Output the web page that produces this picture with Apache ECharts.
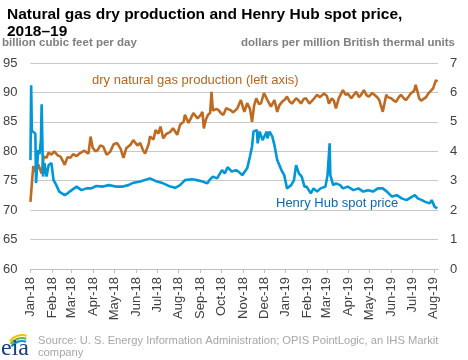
<!DOCTYPE html>
<html>
<head>
<meta charset="utf-8">
<script src="https://cdn.jsdelivr.net/npm/echarts@6/dist/echarts.min.js"></script>
<style>
html,body{margin:0;padding:0;background:#fff;}
#chart{width:468px;height:360px;}
</style>
</head>
<body>
<div id="chart"></div>
<script>
// ---- Data ----
var tickLabels = ['Jan-18','Feb-18','Mar-18','Apr-18','May-18','Jun-18','Jul-18','Aug-18','Sep-18','Oct-18','Nov-18','Dec-18',
  'Jan-19','Feb-19','Mar-19','Apr-19','May-19','Jun-19','Jul-19','Aug-19'];

var prodDates = ['2018-01-01','2018-01-03','2018-01-05','2018-01-08','2018-01-12','2018-01-17','2018-01-20','2018-01-24','2018-01-27','2018-01-31',
  '2018-02-04','2018-02-09','2018-02-13','2018-02-16','2018-02-19','2018-02-23','2018-02-27','2018-03-03','2018-03-08','2018-03-13',
  '2018-03-19','2018-03-25','2018-03-28','2018-03-31','2018-04-04','2018-04-07','2018-04-11','2018-04-15','2018-04-20','2018-04-25',
  '2018-04-30','2018-05-05','2018-05-10','2018-05-14','2018-05-18','2018-05-24','2018-05-28','2018-06-03','2018-06-07','2018-06-11',
  '2018-06-14','2018-06-19','2018-06-21','2018-06-26','2018-06-29','2018-07-03','2018-07-06','2018-07-10','2018-07-14','2018-07-20',
  '2018-07-24','2018-07-30','2018-08-03','2018-08-08','2018-08-10','2018-08-15','2018-08-18','2018-08-22','2018-08-28','2018-09-01',
  '2018-09-04','2018-09-06','2018-09-09','2018-09-12','2018-09-15','2018-09-17','2018-09-19','2018-09-24','2018-09-27','2018-10-01',
  '2018-10-04','2018-10-08','2018-10-14','2018-10-18','2018-10-24','2018-10-29','2018-11-03','2018-11-07','2018-11-11','2018-11-14',
  '2018-11-17','2018-11-20','2018-11-24','2018-11-27','2018-12-01','2018-12-06','2018-12-11','2018-12-16','2018-12-20','2018-12-23',
  '2018-12-27','2018-12-31','2019-01-03','2019-01-07','2019-01-10','2019-01-16','2019-01-20','2019-01-23','2019-01-27','2019-01-30',
  '2019-02-04','2019-02-06','2019-02-11','2019-02-15','2019-02-19','2019-02-25','2019-03-01','2019-03-04','2019-03-08','2019-03-11',
  '2019-03-14','2019-03-18','2019-03-24','2019-03-28','2019-03-31','2019-04-05','2019-04-07','2019-04-12','2019-04-16','2019-04-19',
  '2019-04-23','2019-04-27','2019-04-30','2019-05-05','2019-05-07','2019-05-12','2019-05-15','2019-05-17','2019-05-20','2019-05-25',
  '2019-05-27','2019-06-01','2019-06-05','2019-06-08','2019-06-12','2019-06-15','2019-06-19','2019-06-22','2019-06-26','2019-06-29',
  '2019-07-04','2019-07-06','2019-07-09','2019-07-11','2019-07-14','2019-07-16','2019-07-21','2019-07-24','2019-07-28','2019-07-31',
  '2019-08-04','2019-08-06'];
var prodValues = [71.4,74.5,77.5,76.5,77.8,76.2,79.1,78.9,79.8,79.4,
  80.0,79.3,79.1,78.4,77.7,79.0,78.9,79.5,79.2,79.7,
  80.1,79.6,82.5,80.6,80.0,80.2,81.0,80.8,79.4,79.9,
  81.2,81.4,80.4,78.9,80.5,81.1,81.9,81.0,81.4,80.2,
  79.6,81.2,82.5,82.0,83.6,83.0,84.2,82.2,82.9,83.3,
  83.9,82.8,84.5,85.0,86.2,84.8,85.5,86.5,85.6,86.1,
  86.7,83.9,85.4,86.2,86.5,90.1,86.9,87.2,87.0,86.4,
  86.2,87.3,87.0,86.6,87.3,88.7,86.7,88.2,87.2,85.0,
  87.8,89.0,88.0,88.2,89.9,88.7,87.6,88.7,86.7,87.8,
  88.4,88.8,89.3,88.4,88.1,89.0,88.6,88.1,88.9,89.0,
  88.1,88.4,89.0,89.6,89.2,89.8,89.4,88.1,89.0,88.6,
  87.3,89.0,90.4,89.6,89.8,89.0,89.3,90.1,89.2,89.6,
  90.4,89.5,89.3,89.9,89.8,89.2,88.7,89.0,86.7,89.6,
  89.2,89.0,88.6,88.4,89.2,89.6,89.0,88.7,89.3,89.8,
  90.3,91.3,90.0,89.0,88.6,88.4,89.2,89.8,90.3,90.7,
  92.1,91.8];

var priceDates = ['2018-01-01','2018-01-02','2018-01-03','2018-01-05','2018-01-08','2018-01-09','2018-01-12','2018-01-14','2018-01-16','2018-01-17',
  '2018-01-19','2018-01-21','2018-01-24','2018-01-27','2018-01-31','2018-02-01','2018-02-03','2018-02-07','2018-02-11','2018-02-19',
  '2018-02-22','2018-02-26','2018-03-08','2018-03-15','2018-03-22','2018-03-29','2018-04-05','2018-04-15','2018-04-23','2018-05-03',
  '2018-05-13','2018-05-21','2018-05-27','2018-06-07','2018-06-21','2018-07-01','2018-07-10','2018-07-20','2018-07-27','2018-08-03',
  '2018-08-10','2018-08-20','2018-08-27','2018-09-04','2018-09-11','2018-09-15','2018-09-19','2018-09-25','2018-10-02','2018-10-06',
  '2018-10-10','2018-10-16','2018-10-22','2018-10-26','2018-10-31','2018-11-07','2018-11-11','2018-11-14','2018-11-16','2018-11-21',
  '2018-11-22','2018-11-25','2018-11-29','2018-12-05','2018-12-06','2018-12-09','2018-12-13','2018-12-16','2018-12-20','2018-12-26',
  '2018-12-30','2019-01-03','2019-01-09','2019-01-13','2019-01-16','2019-01-20','2019-01-24','2019-01-28','2019-01-31','2019-02-06',
  '2019-02-10','2019-02-15','2019-02-20','2019-02-27','2019-03-02','2019-03-05','2019-03-06','2019-03-10','2019-03-14','2019-03-20',
  '2019-03-24','2019-03-31','2019-04-08','2019-04-15','2019-04-22','2019-04-29','2019-05-06','2019-05-13','2019-05-20','2019-05-26',
  '2019-06-02','2019-06-09','2019-06-16','2019-06-23','2019-07-01','2019-07-05','2019-07-09','2019-07-15','2019-07-19','2019-07-26',
  '2019-07-29','2019-08-02','2019-08-06'];
var priceValues = [3.70,6.24,4.70,4.67,4.60,2.92,4.04,3.90,4.40,5.60,
  3.14,3.60,3.14,3.53,3.60,3.60,3.02,2.85,2.63,2.51,
  2.55,2.63,2.80,2.68,2.74,2.74,2.82,2.80,2.85,2.80,
  2.80,2.85,2.92,2.97,3.08,2.97,2.91,2.80,2.76,2.85,
  3.02,3.05,3.02,2.97,2.91,3.05,3.14,3.08,3.36,3.25,
  3.46,3.31,3.36,3.30,3.19,3.42,3.82,4.16,4.67,4.72,
  4.27,4.67,4.38,4.67,4.44,4.67,4.50,4.21,3.70,3.36,
  3.19,2.74,2.85,3.02,3.53,3.25,3.14,2.80,2.80,2.57,
  2.74,2.63,2.74,2.80,3.19,4.27,3.19,2.85,2.91,2.85,
  2.74,2.80,2.68,2.74,2.63,2.68,2.63,2.74,2.74,2.63,
  2.46,2.51,2.40,2.34,2.46,2.51,2.40,2.34,2.29,2.23,
  2.34,2.12,2.06];

var prodLabel = 'dry natural gas production (left axis)';
var priceLabel = 'Henry Hub spot price';

// ---- Build ----
var monNames = ['Jan','Feb','Mar','Apr','May','Jun','Jul','Aug','Sep','Oct','Nov','Dec'];
var DAY = 86400000;
function tickToTime(lbl) {
  var m = monNames.indexOf(lbl.slice(0, 3));
  var y = 2000 + parseInt(lbl.slice(4), 10);
  return Date.UTC(y, m, 1);
}
function parseDay(s) {
  var p = s.split('-');
  return Date.UTC(+p[0], +p[1] - 1, +p[2]);
}
var tickTimes = tickLabels.map(tickToTime);
var prodData = prodDates.map(function (d, i) { return [parseDay(d), prodValues[i]]; });
var priceData = priceDates.map(function (d, i) { return [parseDay(d), priceValues[i]]; });

var FONT = '"Liberation Sans", Arial, sans-serif';
var chart = echarts.init(document.getElementById('chart'), null, {renderer: 'canvas'});
var orange = '#BD6B22';
var blue = '#0096D7';

chart.setOption({
  animation: false,
  backgroundColor: '#fff',
  textStyle: {fontFamily: FONT},
  title: {
    text: 'Natural gas dry production and Henry Hub spot price,\n2018\u201319',
    left: 2, top: 1,
    textStyle: {fontSize: 15.5, fontWeight: 'bold', color: '#000', lineHeight: 17, fontFamily: FONT}
  },
  grid: {left: 30, right: 30, top: 63, bottom: 91, containLabel: false},
  xAxis: {
    type: 'value',
    min: tickTimes[0],
    max: parseDay('2019-08-07'),
    axisLine: {show: true, onZero: false, lineStyle: {color: '#bfbfbf', width: 1}},
    axisTick: {show: true, customValues: tickTimes, length: 4, lineStyle: {color: '#bfbfbf'}},
    splitLine: {show: false},
    axisLabel: {
      customValues: tickTimes,
      rotate: 90,
      margin: 8,
      fontSize: 13,
      color: '#404040',
      fontFamily: FONT,
      formatter: function (v) {
        for (var i = 0; i < tickTimes.length; i++) {
          if (Math.abs(tickTimes[i] - v) < DAY / 2) return tickLabels[i];
        }
        return '';
      }
    }
  },
  yAxis: [
    {
      type: 'value', min: 60, max: 95, interval: 5, position: 'left',
      axisLine: {show: false}, axisTick: {show: false},
      axisLabel: {fontSize: 13, color: '#404040', margin: 13, fontFamily: FONT},
      splitLine: {show: true, lineStyle: {color: '#c8c8c8', width: 1}}
    },
    {
      type: 'value', min: 0, max: 7, interval: 1, position: 'right',
      axisLine: {show: false}, axisTick: {show: false},
      axisLabel: {fontSize: 13, color: '#404040', margin: 12, fontFamily: FONT},
      splitLine: {show: false}
    }
  ],
  series: [
    {
      type: 'line', name: prodLabel, yAxisIndex: 0, data: prodData,
      showSymbol: false, symbol: 'none',
      lineStyle: {color: orange, width: 2.6}, z: 2
    },
    {
      type: 'line', name: priceLabel, yAxisIndex: 1, data: priceData,
      showSymbol: false, symbol: 'none',
      lineStyle: {color: blue, width: 2.6}, z: 3
    }
  ],
  graphic: [
    {type: 'text', left: 2, top: 37, style: {text: 'billion cubic feet per day', font: 'bold 11.5px ' + FONT, fill: '#7f7f7f'}},
    {type: 'text', right: 13, top: 37, style: {text: 'dollars per million British thermal units', font: 'bold 11.5px ' + FONT, fill: '#7f7f7f'}},
    {type: 'text', left: 92, top: 74, style: {text: prodLabel, font: '13px ' + FONT, fill: '#B8651B'}},
    {type: 'text', left: 276, top: 197, style: {text: priceLabel, font: '13px ' + FONT, fill: '#1565A8'}},
    {type: 'text', left: 38, top: 335, style: {text: 'Source: U. S. Energy Information Administration; OPIS PointLogic, an IHS Markit\ncompany', font: '11.2px ' + FONT, fill: '#a6a6a6', lineHeight: 12}},
    {type: 'arc', shape: {cx: 22, cy: 350, r: 15, startAngle: Math.PI * 1.2, endAngle: Math.PI * 1.6}, style: {stroke: '#F5C200', lineWidth: 2.2, fill: null}},
    {type: 'arc', shape: {cx: 22, cy: 352, r: 14, startAngle: Math.PI * 1.2, endAngle: Math.PI * 1.6}, style: {stroke: '#6CB33F', lineWidth: 2.2, fill: null}},
    {type: 'arc', shape: {cx: 22, cy: 354, r: 13, startAngle: Math.PI * 1.2, endAngle: Math.PI * 1.6}, style: {stroke: '#0096D7', lineWidth: 2.2, fill: null}},
    {type: 'text', left: 1, top: 337, style: {text: 'eia', font: '24px "Liberation Serif", "DejaVu Serif", serif', fill: '#1C3F72'}}
  ]
});
</script>
</body>
</html>
